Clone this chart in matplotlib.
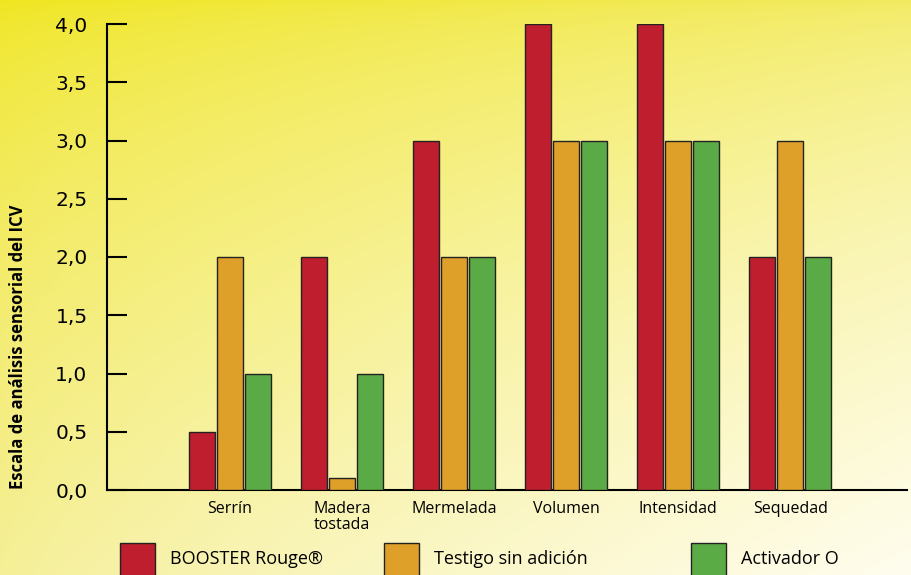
import numpy as np
import matplotlib.pyplot as plt
from matplotlib.patches import Rectangle

categorias = ['Serrín', 'Madera\ntostada', 'Mermelada', 'Volumen', 'Intensidad', 'Sequedad']
series = ['BOOSTER Rouge®', 'Testigo sin adición', 'Activador O']
booster = [0.5, 2.0, 3.0, 4.0, 4.0, 2.0]
testigo = [2.0, 0.1, 2.0, 3.0, 3.0, 3.0]
activador = [1.0, 1.0, 2.0, 3.0, 3.0, 2.0]
yticks = [0.0, 0.5, 1.0, 1.5, 2.0, 2.5, 3.0, 3.5, 4.0]
colores = ['#BE1E2D', '#DFA02A', '#5AAA46']

fig = plt.figure(figsize=(9.11, 5.75), dpi=100)

# fondo degradado amarillo -> blanco (esquinas: sup-izq, sup-der, inf-izq, inf-der)
bg = fig.add_axes([0, 0, 1, 1], zorder=-10)
xx, yy = np.meshgrid(np.linspace(0, 1, 300), np.linspace(0, 1, 200))
u = xx ** 0.8
v = yy ** 0.6
c_tl = np.array([240, 230, 30]) / 255
c_tr = np.array([242, 234, 95]) / 255
c_bl = np.array([245, 239, 150]) / 255
c_br = np.array([255, 253, 238]) / 255
img = (c_tl * ((1 - u) * (1 - v))[..., None] + c_tr * (u * (1 - v))[..., None]
       + c_bl * ((1 - u) * v)[..., None] + c_br * (u * v)[..., None])
bg.imshow(img, aspect='auto', extent=[0, 1, 0, 1], origin='upper')
bg.axis('off')

ax = fig.add_axes([107 / 911, 85 / 575, 800 / 911, 466 / 575])
ax.set_facecolor('none')

x = np.arange(len(categorias))
w = 0.232
off = 0.25
for i, (vals, lab) in enumerate(zip([booster, testigo, activador], series)):
    ax.bar(x + (i - 1) * off, vals, w, color=colores[i], edgecolor='#222222',
           linewidth=1.0, label=lab, zorder=3)

ax.set_xlim(-1.098, 6.04)
ax.set_ylim(0, 4.0)
ax.set_yticks(yticks)
ax.set_yticklabels([f'{v:.1f}'.replace('.', ',') for v in yticks],
                   fontsize=14.5, family='DejaVu Sans')
ax.tick_params(axis='y', direction='in', length=14.5, width=1.5, pad=14)
ax.set_xticks(x)
ax.set_xticklabels(categorias, fontsize=11.5, family='Open Sans', linespacing=0.95)
ax.tick_params(axis='x', length=0, pad=8)
for s in ['top', 'right']:
    ax.spines[s].set_visible(False)
ax.spines['left'].set_linewidth(1.5)
ax.spines['bottom'].set_linewidth(1.5)

fig.text(18 / 911, 1 - 347 / 575, 'Escala de análisis sensorial del ICV', rotation=90,
         ha='center', va='center', fontsize=12, fontweight='bold', family='Open Sans')

# leyenda
leg_x = [120, 384, 691]
for i, lab in enumerate(series):
    fig.patches.append(Rectangle((leg_x[i] / 911, -0.02), 35 / 911, (575 - 543) / 575 + 0.02,
                                 transform=fig.transFigure, facecolor=colores[i],
                                 edgecolor='#222222', linewidth=1.0))
    fig.text((leg_x[i] + 50) / 911, 1 - 559 / 575, lab, ha='left', va='center',
             fontsize=13, family='Open Sans')

fig.savefig('out.png', dpi=100)
